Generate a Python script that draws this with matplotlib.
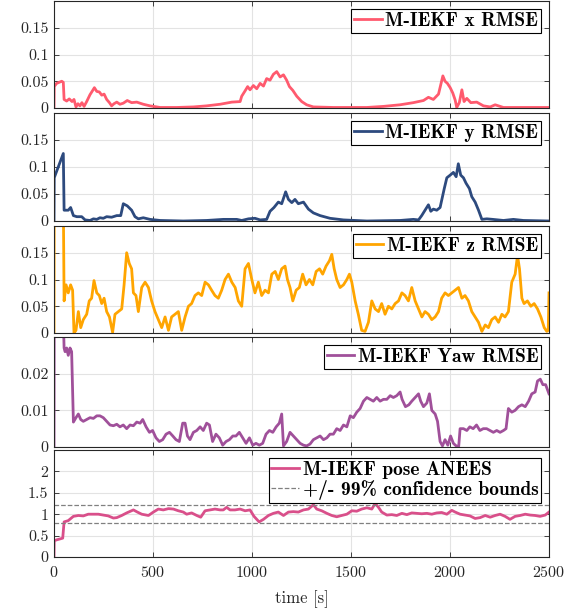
import matplotlib
matplotlib.use("Agg")
import matplotlib.pyplot as plt
from matplotlib.font_manager import FontProperties
from matplotlib.ticker import FuncFormatter

plt.rcParams['font.family'] = 'cmr10'
plt.rcParams['mathtext.fontset'] = 'cm'
plt.rcParams['axes.formatter.use_mathtext'] = True

# x position RMSE [m]
t_x = [0, 1, 13, 39, 47, 51, 64, 77, 91, 101, 111, 121, 131, 141, 152, 165, 182, 194, 204,
       216, 229, 241, 253, 266, 280, 291, 303, 317, 333, 350, 370, 392, 418, 451, 485, 536,
       620, 704, 771, 839, 898, 940, 948, 965, 978, 990, 1007, 1024, 1041, 1058, 1074, 1091,
       1108, 1125, 1142, 1159, 1175, 1189, 1206, 1226, 1251, 1276, 1310, 1411, 1580, 1664,
       1748, 1815, 1866, 1891, 1916, 1942, 1964, 1975, 1987, 2001, 2014, 2026, 2034, 2047,
       2060, 2071, 2085, 2105, 2135, 2169, 2203, 2228, 2270, 2500]
rmse_x = [0, 0.040, 0.046, 0.050, 0.048, 0.016, 0.013, 0.017, 0.012, 0.016, 0.002, 0.008,
          0.004, 0.010, 0.003, 0.012, 0.025, 0.032, 0.038, 0.031, 0.030, 0.024, 0.026, 0.016,
          0.010, 0.004, 0.008, 0.011, 0.007, 0.009, 0.014, 0.010, 0.011, 0.007, 0.004, 0.001,
          0.001, 0.002, 0.004, 0.007, 0.011, 0.012, 0.022, 0.032, 0.040, 0.034, 0.042, 0.036,
          0.046, 0.041, 0.055, 0.052, 0.063, 0.068, 0.058, 0.062, 0.052, 0.040, 0.033, 0.022,
          0.012, 0.006, 0.002, 0.001, 0.001, 0.003, 0.006, 0.010, 0.014, 0.020, 0.016, 0.026,
          0.060, 0.050, 0.046, 0.038, 0.028, 0.015, 0.001, 0.010, 0.034, 0.012, 0.018, 0.010,
          0.011, 0.004, 0.002, 0.006, 0.001, 0.001]

# y position RMSE [m]
t_y = [0, 1, 47, 51, 72, 84, 98, 115, 140, 157, 182, 199, 216, 232, 249, 266, 291, 317, 337,
       350, 370, 392, 409, 426, 451, 485, 536, 653, 771, 855, 923, 948, 982, 1015, 1041, 1074,
       1091, 1111, 1133, 1150, 1170, 1184, 1201, 1217, 1234, 1260, 1285, 1310, 1344, 1394,
       1462, 1580, 1748, 1815, 1841, 1857, 1874, 1891, 1903, 1916, 1933, 1950, 1971, 1984,
       2001, 2017, 2031, 2042, 2054, 2068, 2081, 2098, 2110, 2127, 2144, 2161, 2186, 2216,
       2270, 2320, 2371, 2500]
rmse_y = [0, 0.080, 0.125, 0.020, 0.020, 0.025, 0.010, 0.008, 0.008, 0.002, 0.001, 0.004,
          0.003, 0.006, 0.005, 0.008, 0.007, 0.010, 0.010, 0.032, 0.028, 0.020, 0.008, 0.004,
          0.006, 0.003, 0.001, 0.000, 0.001, 0.003, 0.003, 0.001, 0.004, 0.005, 0.002, 0.003,
          0.018, 0.025, 0.035, 0.032, 0.054, 0.040, 0.034, 0.040, 0.032, 0.035, 0.022, 0.015,
          0.010, 0.005, 0.002, 0.000, 0.001, 0.003, 0.002, 0.010, 0.020, 0.030, 0.018, 0.022,
          0.020, 0.025, 0.060, 0.080, 0.085, 0.090, 0.082, 0.106, 0.085, 0.080, 0.070, 0.060,
          0.045, 0.035, 0.020, 0.003, 0.004, 0.003, 0.001, 0.003, 0.001, 0.000]

# z position RMSE [m]
t_z = [0, 1, 47, 51, 61, 72, 84, 94, 101, 111, 123, 135, 148, 165, 178, 190, 202, 216, 229,
       241, 253, 266, 280, 296, 308, 325, 342, 354, 367, 380, 392, 401, 414, 426, 443, 460,
       477, 493, 510, 527, 544, 561, 578, 594, 611, 628, 645, 662, 679, 695, 712, 729, 746,
       763, 780, 796, 813, 830, 847, 864, 881, 898, 915, 931, 948, 965, 982, 999, 1015, 1032,
       1049, 1066, 1083, 1100, 1117, 1133, 1150, 1167, 1179, 1192, 1206, 1223, 1239, 1256,
       1273, 1290, 1307, 1324, 1341, 1357, 1374, 1391, 1403, 1415, 1428, 1445, 1462, 1479,
       1492, 1504, 1521, 1537, 1554, 1571, 1588, 1605, 1622, 1639, 1655, 1672, 1689, 1706,
       1723, 1740, 1757, 1773, 1790, 1807, 1824, 1841, 1858, 1874, 1891, 1908, 1925, 1942,
       1958, 1975, 1992, 2009, 2026, 2043, 2060, 2076, 2093, 2110, 2127, 2144, 2161, 2178,
       2194, 2211, 2228, 2245, 2262, 2278, 2295, 2312, 2329, 2341, 2351, 2363, 2374, 2391,
       2408, 2425, 2442, 2459, 2476, 2489, 2496, 2500]
rmse_z = [0, 0.25, 0.25, 0.060, 0.090, 0.075, 0.090, 0.080, 0.000, 0.005, 0.040, 0.010,
          0.025, 0.035, 0.060, 0.065, 0.098, 0.075, 0.070, 0.055, 0.065, 0.040, 0.030, 0.001,
          0.035, 0.040, 0.045, 0.090, 0.150, 0.130, 0.120, 0.075, 0.070, 0.040, 0.085, 0.095,
          0.085, 0.060, 0.040, 0.025, 0.010, 0.030, 0.005, 0.030, 0.035, 0.040, 0.005, 0.030,
          0.050, 0.055, 0.070, 0.075, 0.070, 0.095, 0.090, 0.080, 0.070, 0.065, 0.080, 0.100,
          0.110, 0.095, 0.085, 0.060, 0.050, 0.120, 0.130, 0.100, 0.075, 0.095, 0.070, 0.080,
          0.075, 0.110, 0.115, 0.100, 0.120, 0.125, 0.100, 0.085, 0.060, 0.080, 0.085, 0.110,
          0.090, 0.100, 0.090, 0.115, 0.120, 0.110, 0.125, 0.135, 0.147, 0.120, 0.100, 0.085,
          0.090, 0.100, 0.110, 0.095, 0.060, 0.035, 0.005, 0.003, 0.020, 0.060, 0.045, 0.040,
          0.055, 0.035, 0.050, 0.045, 0.055, 0.060, 0.075, 0.070, 0.060, 0.085, 0.060, 0.045,
          0.030, 0.040, 0.035, 0.025, 0.030, 0.040, 0.065, 0.075, 0.070, 0.075, 0.080, 0.085,
          0.065, 0.070, 0.060, 0.040, 0.030, 0.020, 0.003, 0.015, 0.010, 0.025, 0.030, 0.020,
          0.035, 0.030, 0.040, 0.095, 0.110, 0.145, 0.120, 0.065, 0.055, 0.060, 0.050, 0.055,
          0.045, 0.030, 0.010, 0.003, 0.005, 0.075]

# yaw RMSE [rad]
t_yaw = [0, 1, 47, 51, 56, 64, 72, 81, 89, 98, 111, 123, 135, 148, 165, 182, 199, 216, 232,
         249, 266, 283, 300, 317, 333, 350, 367, 384, 401, 418, 435, 448, 465, 482, 498, 515,
         532, 549, 566, 583, 600, 616, 633, 650, 662, 674, 687, 704, 721, 738, 754, 771, 785,
         801, 818, 835, 852, 869, 886, 903, 919, 936, 953, 970, 987, 1004, 1020, 1037, 1054,
         1071, 1088, 1105, 1122, 1138, 1150, 1159, 1175, 1192, 1209, 1226, 1243, 1260, 1276,
         1293, 1310, 1327, 1344, 1361, 1378, 1394, 1411, 1428, 1445, 1462, 1479, 1496, 1512,
         1529, 1546, 1563, 1580, 1596, 1613, 1630, 1647, 1664, 1681, 1698, 1714, 1731, 1748,
         1758, 1775, 1792, 1807, 1824, 1841, 1852, 1866, 1883, 1896, 1908, 1925, 1937, 1950,
         1962, 1975, 1989, 2003, 2017, 2031, 2044, 2051, 2068, 2085, 2100, 2117, 2134, 2151,
         2168, 2185, 2202, 2219, 2236, 2253, 2270, 2283, 2295, 2312, 2329, 2346, 2363, 2380,
         2397, 2413, 2430, 2442, 2456, 2469, 2483, 2500]
rmse_yaw = [0, 0.035, 0.035, 0.027, 0.026, 0.027, 0.025, 0.027, 0.026, 0.0068, 0.008, 0.009,
            0.0075, 0.007, 0.0075, 0.008, 0.0078, 0.0085, 0.0085, 0.008, 0.007, 0.006, 0.0058,
            0.0062, 0.0055, 0.006, 0.005, 0.006, 0.0058, 0.0068, 0.0065, 0.0075, 0.0055, 0.004,
            0.0045, 0.0025, 0.0015, 0.002, 0.0035, 0.004, 0.003, 0.002, 0.0015, 0.0065, 0.0065,
            0.003, 0.002, 0.004, 0.0045, 0.0055, 0.0045, 0.0065, 0.006, 0.0015, 0.0035, 0.0025,
            0.0005, 0.0015, 0.002, 0.003, 0.003, 0.004, 0.0025, 0.001, 0.0025, 0.0005, 0.001,
            0.0005, 0.001, 0.0035, 0.0045, 0.004, 0.0055, 0.0065, 0.009, 0.0003, 0.0015, 0.004,
            0.003, 0.002, 0.001, 0.0005, 0.0003, 0.0008, 0.002, 0.0025, 0.003, 0.002, 0.0025,
            0.0035, 0.0035, 0.005, 0.0045, 0.006, 0.0055, 0.0085, 0.008, 0.0095, 0.0105, 0.0125,
            0.0135, 0.013, 0.0125, 0.0135, 0.0125, 0.013, 0.013, 0.014, 0.0135, 0.014, 0.015,
            0.013, 0.011, 0.0115, 0.0125, 0.0135, 0.0145, 0.0125, 0.011, 0.012, 0.0145, 0.010,
            0.009, 0.007, 0.0015, 0.0003, 0.002, 0.0005, 0.003, 0.001, 0.0003, 0.0002, 0.005,
            0.005, 0.0045, 0.0055, 0.005, 0.006, 0.0045, 0.005, 0.005, 0.0045, 0.004, 0.0045,
            0.004, 0.0045, 0.005, 0.0105, 0.0095, 0.010, 0.011, 0.0115, 0.011, 0.0125, 0.0145,
            0.015, 0.018, 0.0185, 0.017, 0.017, 0.0145]

# pose ANEES
t_nees = [0, 1, 13, 44, 51, 72, 98, 123, 148, 173, 199, 224, 249, 274, 300, 317, 342, 367,
          401, 421, 443, 477, 502, 527, 552, 578, 603, 628, 653, 670, 695, 721, 741, 763, 788,
          813, 839, 855, 872, 889, 914, 940, 965, 990, 1010, 1036, 1058, 1083, 1108, 1133,
          1159, 1184, 1209, 1234, 1260, 1285, 1310, 1327, 1352, 1378, 1403, 1428, 1453, 1479,
          1504, 1529, 1554, 1580, 1605, 1622, 1639, 1655, 1681, 1706, 1731, 1757, 1782, 1807,
          1832, 1857, 1883, 1908, 1933, 1958, 1984, 2009, 2026, 2051, 2076, 2101, 2127, 2152,
          2178, 2203, 2228, 2253, 2278, 2303, 2329, 2354, 2380, 2405, 2430, 2455, 2481, 2500]
anees = [0, 0.38, 0.40, 0.44, 0.82, 0.85, 0.95, 0.97, 0.96, 1.00, 1.00, 1.00, 0.98, 0.96,
         0.91, 0.92, 0.97, 1.03, 1.10, 1.05, 1.00, 0.97, 1.05, 1.12, 1.10, 1.13, 1.12, 1.08,
         1.05, 1.00, 1.03, 0.97, 0.93, 1.08, 1.10, 1.12, 1.10, 1.10, 1.16, 1.10, 1.10, 1.12,
         1.08, 1.10, 0.95, 0.82, 0.88, 0.97, 1.02, 1.05, 0.97, 1.05, 1.06, 1.05, 1.10, 1.12,
         1.22, 1.12, 1.08, 1.02, 0.97, 0.94, 0.97, 1.00, 1.08, 1.07, 1.12, 1.15, 1.12, 1.25,
         1.16, 1.05, 0.98, 0.99, 0.97, 1.02, 0.99, 1.03, 1.02, 1.01, 1.02, 1.00, 1.03, 1.04,
         1.00, 1.09, 1.05, 1.00, 0.98, 0.96, 0.90, 0.92, 0.97, 0.93, 0.97, 1.00, 0.95, 0.88,
         0.95, 0.97, 1.00, 0.98, 0.97, 0.95, 0.98, 1.05]
bounds = [0.79, 1.21]

panels = [
    (t_x, rmse_x, '#ff5a6e', 'M-IEKF x RMSE', 0.2, [0, 0.05, 0.1, 0.15]),
    (t_y, rmse_y, '#2d4a7e', 'M-IEKF y RMSE', 0.2, [0, 0.05, 0.1, 0.15]),
    (t_z, rmse_z, '#ffa500', 'M-IEKF z RMSE', 0.2, [0, 0.05, 0.1, 0.15]),
    (t_yaw, rmse_yaw, '#a0509a', 'M-IEKF Yaw RMSE', 0.03, [0, 0.01, 0.02]),
    (t_nees, anees, '#d94f8a', 'M-IEKF pose ANEES', 2.5, [0, 0.5, 1, 1.5, 2]),
]

# panel top/bottom in pixels
rows = [(1, 108), (113, 221), (226, 333), (337, 447), (450, 557)]
W, H = 582, 612
fig = plt.figure(figsize=(W / 100, H / 100), dpi=100)
legfont = FontProperties(family='cmb10', size=14)
fmt = FuncFormatter(lambda v, p: '{:g}'.format(v))

for i, (t, v, col, lab, ytop, yt) in enumerate(panels):
    top, bot = rows[i]
    ax = fig.add_axes([54 / W, 1 - bot / H, 495 / W, (bot - top) / H])
    ax.plot(t, v, color=col, lw=2.0, label=lab)
    if i == 4:
        ax.axhline(bounds[0], color='#808080', ls='--', lw=0.9,
                   label='+/- 99% confidence bounds')
        ax.axhline(bounds[1], color='#808080', ls='--', lw=0.9)
    ax.set_xlim(0, 2500)
    ax.set_ylim(0, ytop)
    ax.set_yticks(yt)
    ax.set_xticks([0, 500, 1000, 1500, 2000, 2500])
    ax.yaxis.set_major_formatter(fmt)
    ax.grid(True, color='#e3e3e3', lw=0.8)
    ax.set_axisbelow(True)
    ax.tick_params(direction='in', top=True, right=True, length=3.5, width=0.6,
                   color='#262626', labelsize=11.5, labelcolor='#262626', pad=4)
    ax.tick_params(axis='x', pad=6)
    for s in ax.spines.values():
        s.set_color('#262626')
        s.set_linewidth(0.8)
    if i < 4:
        ax.tick_params(labelbottom=False)
    else:
        ax.set_xlabel('time [s]', fontsize=12, color='#262626', labelpad=7)
    leg = ax.legend(loc='upper right', prop=legfont, handlelength=1.4, handletextpad=0.2,
                    borderpad=0.15, labelspacing=0.05, borderaxespad=0.4, fancybox=False,
                    framealpha=1, edgecolor='black')
    leg.get_frame().set_linewidth(0.8)

fig.savefig('out.png', dpi=100)
